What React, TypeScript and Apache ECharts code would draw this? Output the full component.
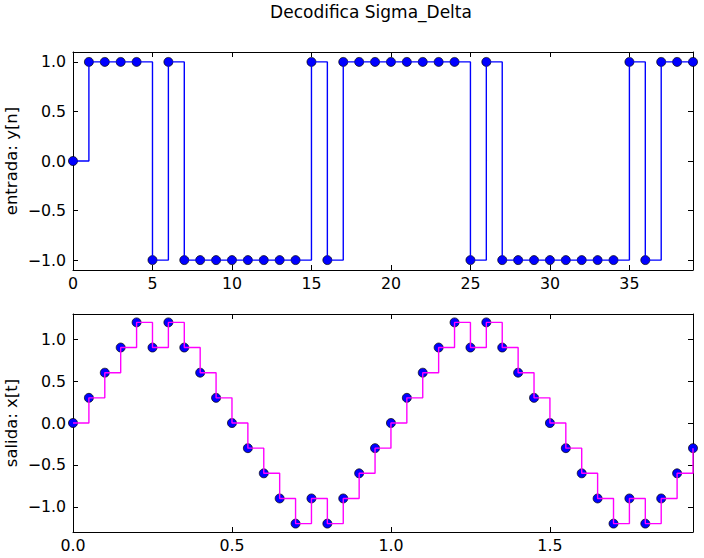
import React, { useEffect, useRef } from "react";
import * as echarts from "echarts";

const titleText = "Decodifica Sigma_Delta";
const topYLabel = "entrada: y[n]";
const bottomYLabel = "salida: x[t]";

const nIndex = [
  0, 1, 2, 3, 4, 5, 6, 7, 8, 9, 10, 11, 12, 13, 14, 15, 16, 17, 18, 19,
  20, 21, 22, 23, 24, 25, 26, 27, 28, 29, 30, 31, 32, 33, 34, 35, 36, 37, 38, 39,
];
const yValues = [
  0, 1, 1, 1, 1, -1, 1, -1, -1, -1, -1, -1, -1, -1, -1, 1, -1, 1, 1, 1,
  1, 1, 1, 1, 1, -1, 1, -1, -1, -1, -1, -1, -1, -1, -1, 1, -1, 1, 1, 1,
];

const tValues = [
  0, 0.05, 0.1, 0.15, 0.2, 0.25, 0.3, 0.35, 0.4, 0.45, 0.5, 0.55, 0.6, 0.65, 0.7, 0.75, 0.8, 0.85, 0.9, 0.95,
  1.0, 1.05, 1.1, 1.15, 1.2, 1.25, 1.3, 1.35, 1.4, 1.45, 1.5, 1.55, 1.6, 1.65, 1.7, 1.75, 1.8, 1.85, 1.9, 1.95,
];
const xValues = [
  0, 0.3, 0.6, 0.9, 1.2, 0.9, 1.2, 0.9, 0.6, 0.3, 0, -0.3, -0.6, -0.9, -1.2, -0.9, -1.2, -0.9, -0.6, -0.3,
  0, 0.3, 0.6, 0.9, 1.2, 0.9, 1.2, 0.9, 0.6, 0.3, 0, -0.3, -0.6, -0.9, -1.2, -0.9, -1.2, -0.9, -0.6, -0.3,
];

const topXTicks = [0, 5, 10, 15, 20, 25, 30, 35];
const bottomXTicks = [0, 0.5, 1.0, 1.5];
const yTicks = [-1.0, -0.5, 0, 0.5, 1.0];

const FONT = "DejaVu Sans";

function fmt(v: number, digits: number) {
  const s = Math.abs(v).toFixed(digits);
  return v < -1e-9 ? "\u2212" + s : s;
}

export default function App() {
  const ref = useRef<HTMLDivElement>(null);
  useEffect(() => {
    if (!ref.current) return;
    const chart = echarts.init(ref.current, null, { renderer: "svg" });

    const tickStyle = { lineStyle: { color: "#000", width: 1 } };
    const mkX = (gridIndex: number, min: number, max: number, ticks: number[], digits: number, main: boolean) => ({
      type: "value",
      gridIndex,
      min,
      max,
      position: main ? "bottom" : "top",
      splitLine: { show: false },
      axisLine: { show: true, onZero: false, lineStyle: { color: "#000", width: 1 } },
      axisTick: { show: true, inside: true, length: 5, customValues: ticks, ...tickStyle },
      axisLabel: {
        show: main,
        customValues: ticks,
        margin: 5,
        color: "#000",
        fontFamily: FONT,
        fontSize: 15.8,
        formatter: (v: number) => fmt(v, digits),
      },
    });
    const mkY = (gridIndex: number, min: number, max: number, main: boolean) => ({
      type: "value",
      gridIndex,
      min,
      max,
      position: main ? "left" : "right",
      splitLine: { show: false },
      axisLine: { show: true, onZero: false, lineStyle: { color: "#000", width: 1 } },
      axisTick: { show: true, inside: true, length: 5, customValues: yTicks, ...tickStyle },
      axisLabel: {
        show: main,
        customValues: yTicks,
        margin: 7,
        color: "#000",
        fontFamily: FONT,
        fontSize: 15.8,
        formatter: (v: number) => fmt(v, 1),
      },
    });

    const topData = nIndex.map((n, i) => [n, yValues[i]]);
    const bottomData = tValues.map((t, i) => [t, xValues[i]]);

    const markerStyle = { color: "#0000ff", borderColor: "#000", borderWidth: 0.7, opacity: 1 };

    const yName = (text: string, cy: number) => ({
      type: "text",
      x: 11,
      y: cy,
      rotation: Math.PI / 2,
      style: {
        text,
        fill: "#000",
        font: `16.5px "${FONT}"`,
        textAlign: "center",
        textVerticalAlign: "middle",
      },
    });

    chart.setOption({
      animation: false,
      backgroundColor: "#fff",
      textStyle: { fontFamily: FONT },
      graphic: [
        {
          type: "text",
          x: 371,
          y: 12,
          style: {
            text: titleText,
            fill: "#000",
            font: `17px "${FONT}"`,
            textAlign: "center",
            textVerticalAlign: "middle",
          },
        },
        yName(topYLabel, 161),
        yName(bottomYLabel, 423),
      ],
      grid: [
        { left: 73, top: 52, width: 620, height: 218, containLabel: false, outerBoundsMode: "none" },
        { left: 73, top: 314, width: 620, height: 218, containLabel: false, outerBoundsMode: "none" },
      ],
      xAxis: [
        mkX(0, 0, 39, topXTicks, 0, true),
        mkX(0, 0, 39, topXTicks, 0, false),
        mkX(1, 0, 1.95, bottomXTicks, 1, true),
        mkX(1, 0, 1.95, bottomXTicks, 1, false),
      ],
      yAxis: [
        mkY(0, -1.1, 1.1, true),
        mkY(0, -1.1, 1.1, false),
        mkY(1, -1.3, 1.3, true),
        mkY(1, -1.3, 1.3, false),
      ],
      series: [
        {
          type: "scatter",
          xAxisIndex: 0,
          yAxisIndex: 0,
          data: topData,
          symbol: "circle",
          symbolSize: 9,
          itemStyle: markerStyle,
          emphasis: { disabled: true },
          clip: true,
          z: 2,
        },
        {
          type: "line",
          xAxisIndex: 0,
          yAxisIndex: 0,
          data: topData,
          step: "end",
          showSymbol: false,
          symbol: "none",
          lineStyle: { color: "#0000ff", width: 1.4 },
          clip: true,
          z: 3,
        },
        {
          type: "scatter",
          xAxisIndex: 2,
          yAxisIndex: 2,
          data: bottomData,
          symbol: "circle",
          symbolSize: 9,
          itemStyle: markerStyle,
          emphasis: { disabled: true },
          clip: true,
          z: 2,
        },
        {
          type: "line",
          xAxisIndex: 2,
          yAxisIndex: 2,
          data: bottomData,
          step: "end",
          showSymbol: false,
          symbol: "none",
          lineStyle: { color: "#ff00ff", width: 1.4 },
          clip: true,
          z: 3,
        },
      ],
    });
    return () => chart.dispose();
  }, []);

  return (
    <div
      ref={ref}
      style={{ position: "fixed", left: 0, top: 0, width: 704, height: 558 }}
    />
  );
}
